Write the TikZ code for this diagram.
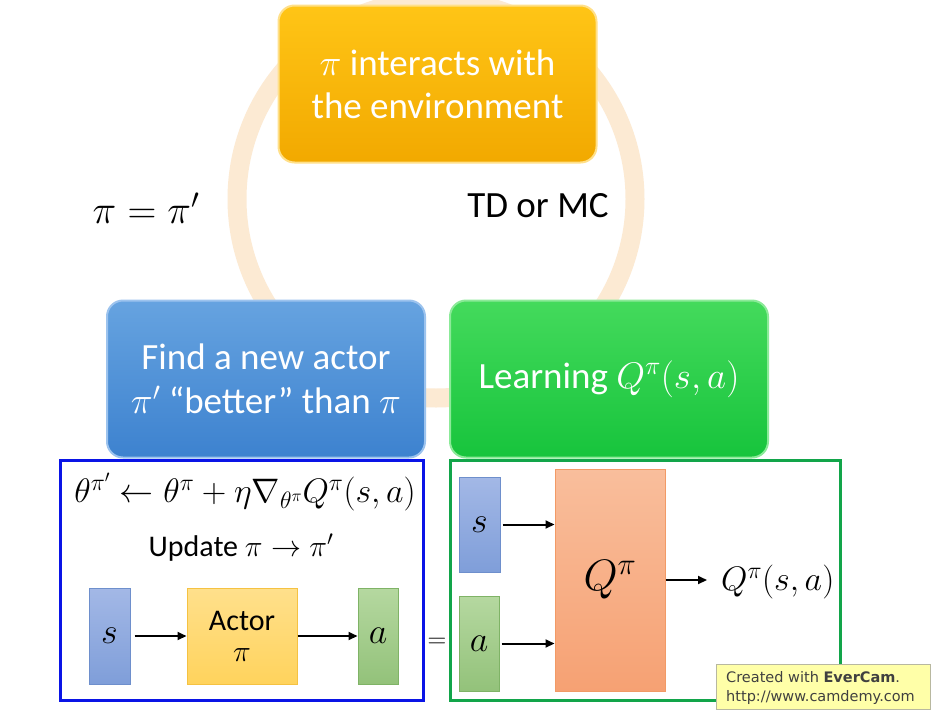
\RequirePackage{fix-cm}
\documentclass[tikz,border=0pt]{standalone}
\usepackage{fontspec}
\setmainfont{Carlito}
\newfontfamily\wmfont{DejaVu Sans}
\usetikzlibrary{arrows.meta}
\definecolor{ringc}{HTML}{FCEAD3}
\definecolor{orT}{HTML}{FFC516}
\definecolor{orB}{HTML}{F2A900}
\definecolor{orE}{HTML}{FFE08A}
\definecolor{blT}{HTML}{66A3E0}
\definecolor{blB}{HTML}{3D82CF}
\definecolor{blE}{HTML}{9CC3EE}
\definecolor{grT}{HTML}{44DA5C}
\definecolor{grB}{HTML}{17C43C}
\definecolor{grE}{HTML}{8BEA98}
\definecolor{frameblue}{HTML}{0A14E6}
\definecolor{framegreen}{HTML}{12A54A}
\definecolor{sT}{HTML}{A3B8E6}
\definecolor{sB}{HTML}{7F9ED9}
\definecolor{sE}{HTML}{6E8FCC}
\definecolor{aT}{HTML}{B5D8A0}
\definecolor{aB}{HTML}{93C27A}
\definecolor{aE}{HTML}{7FB366}
\definecolor{actT}{HTML}{FFE08C}
\definecolor{actB}{HTML}{FFD35C}
\definecolor{actE}{HTML}{F5C242}
\definecolor{qT}{HTML}{F9BE9C}
\definecolor{qB}{HTML}{F6A173}
\definecolor{qE}{HTML}{F29A66}
\definecolor{wmF}{HTML}{FFFFA8}
\definecolor{wmE}{HTML}{B8B8A0}
\begin{document}
\begin{tikzpicture}[x=1pt,y=-1pt,
  bigbox/.style={rounded corners=16pt, line width=2pt, minimum width=318pt, minimum height=157pt,
    align=center, text=white, inner sep=0pt, font=\fontsize{37}{43}\selectfont},
  lbl/.style={inner sep=0pt, font=\fontsize{37}{42}\selectfont},
  frame/.style={line width=3pt, inner sep=0pt, minimum height=240pt},
  small/.style={inner sep=0pt, line width=1pt, font=\fontsize{36}{40}\selectfont},
  sbox/.style={small, top color=sT, bottom color=sB, draw=sE},
  abox/.style={small, top color=aT, bottom color=aB, draw=aE},
  arr/.style={line width=2pt, -{Triangle[length=9pt,width=8pt]}},
  ring/.style={draw=ringc, line width=19pt}
]
\useasboundingbox (0,0) rectangle (937,715);
\fill[white] (0,0) rectangle (937,715);
\coordinate (rc) at (436,199);
\draw[ring] (rc) circle[radius=199pt];

\node[bigbox, top color=orT, bottom color=orB, draw=orE] (env) at (437.5,84)
  {$\pi$ interacts with\\the environment};
\node[bigbox, top color=blT, bottom color=blB, draw=blE] (find) at (266,379)
  {Find a new actor\\[1pt]$\pi'$ “better” than $\pi$};
\node[bigbox, top color=grT, bottom color=grB, draw=grE] (learn) at (609,379)
  {Learning $Q^{\pi}(s,a)$};

\node[lbl, font=\fontsize{40}{42}\selectfont] (peq) at (146,208) {$\pi=\pi'$};
\node[lbl] (td) at (538,206) {TD or MC};

\node[frame, draw=frameblue, minimum width=363pt] (afr) at (241.5,580) {};
\node[frame, draw=framegreen, minimum width=390pt] (qfr) at (645,580) {};

\node[lbl, font=\fontsize{34}{38}\selectfont] (grad) at (245,492)
  {$\theta^{\pi'}\leftarrow\theta^{\pi}+\eta\nabla_{\theta^{\pi}}Q^{\pi}(s,a)$};
\node[lbl, font=\fontsize{30}{36}\selectfont] (upd) at (241,548) {Update $\pi\rightarrow\pi'$};

\node[sbox, minimum width=41pt, minimum height=96pt] (s1) at (109.5,636) {$s$};
\node[small, top color=actT, bottom color=actB, draw=actE, minimum width=110pt, minimum height=96pt,
  align=center, font=\fontsize{30}{31}\selectfont] (act) at (242,636) {Actor\\$\pi$};
\node[abox, minimum width=40pt, minimum height=96pt] (a1) at (378,636) {$a$};
\draw[arr] (s1.east) ++(4,0) coordinate (s1o) (s1o) -- (act.west);
\draw[arr] (act.east) -- (a1.west);

\node[lbl, font=\fontsize{26}{30}\selectfont] (eqs) at (437,643) {$=$};

\node[sbox, minimum width=41pt, minimum height=95pt] (s2) at (479.5,524.5) {$s$};
\node[abox, minimum width=40pt, minimum height=95pt] (a2) at (479,643.5) {$a$};
\node[small, top color=qT, bottom color=qB, draw=qE, minimum width=110pt, minimum height=222pt,
  font=\fontsize{44}{48}\selectfont] (q) at (610,580) {$Q^{\pi}$};
\draw[arr] (s2.east) ++(2,0) coordinate (s2o) (s2o) -- (q.west |- s2o);
\draw[arr] (a2.east) ++(2,0) coordinate (a2o) (a2o) -- (q.west |- a2o);
\node[lbl, anchor=west, font=\fontsize{34}{38}\selectfont] (out) at (721,582) {$Q^{\pi}(s,a)$};
\draw[arr, shorten >=14pt] (q.east) -- (q.east -| out.west);

\node[fill=wmF, draw=wmE, line width=1pt, minimum width=214pt, minimum height=45pt, inner sep=0pt] (wm) at (823,687) {};
\node[anchor=west, inner sep=0pt, align=left, text=black!75, font=\wmfont\fontsize{14.5}{19}\selectfont]
  (wmt) at (726,688) {Created with \textbf{EverCam}.\\http://www.camdemy.com};
\end{tikzpicture}
\end{document}
